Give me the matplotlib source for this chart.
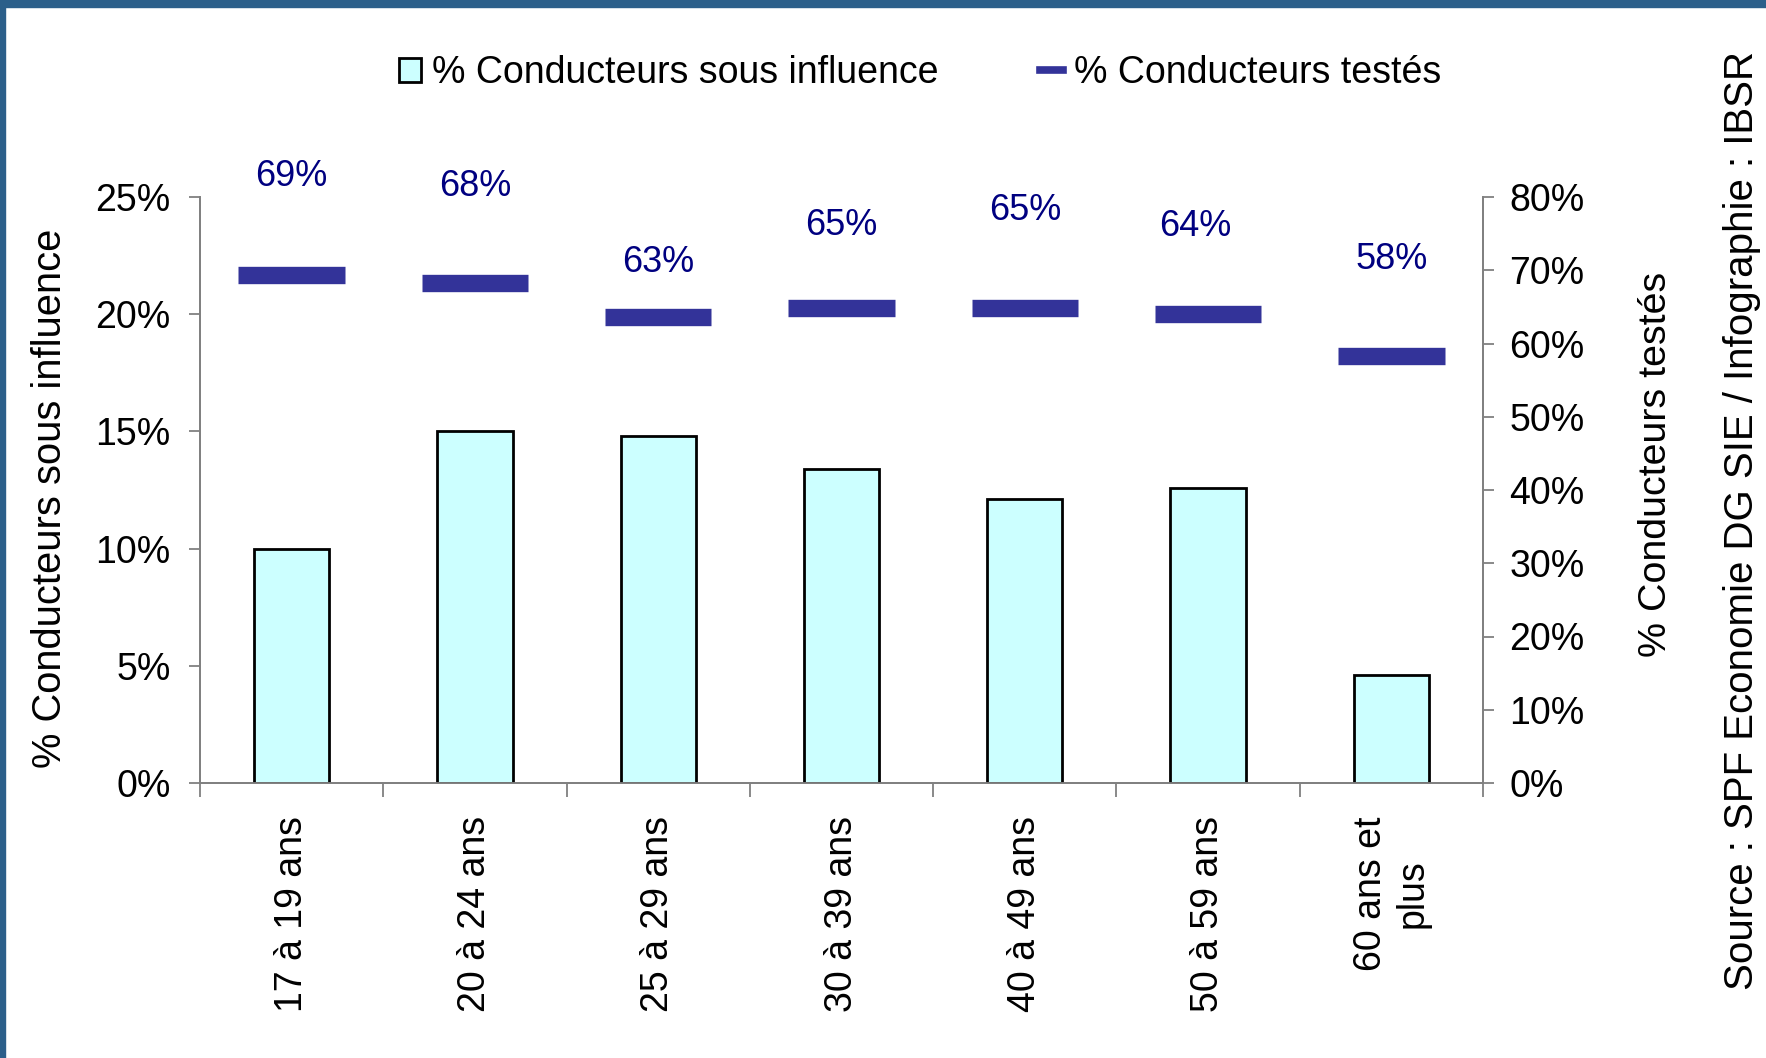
import matplotlib
matplotlib.use("Agg")
import matplotlib.pyplot as plt
from matplotlib.patches import Patch, Rectangle
from matplotlib.lines import Line2D
import numpy as np

plt.rcParams['font.family'] = ['Liberation Sans', 'DejaVu Sans']

categories = ["17 à 19 ans", "20 à 24 ans", "25 à 29 ans", "30 à 39 ans",
              "40 à 49 ans", "50 à 59 ans", "60 ans et\nplus"]
influence = [10.0, 15.0, 14.8, 13.4, 12.1, 12.6, 4.6]
tested = [69.4, 68.2, 63.6, 64.9, 64.9, 64.0, 58.3]
tested_labels = ["69%", "68%", "63%", "65%", "65%", "64%", "58%"]
label_offsets = [12.1, 12.0, 6.1, 9.9, 12.0, 10.7, 11.9]  # label baseline above marker (right-axis units)
label_dx = [0, 0, 0, 0, 0, -0.07, 0]

left_ticks = [0, 5, 10, 15, 20, 25]
right_ticks = [0, 10, 20, 30, 40, 50, 60, 70, 80]

W, H = 1766, 1058
fig = plt.figure(figsize=(W / 100, H / 100), dpi=100)
fig.patch.set_facecolor("white")

ax = fig.add_axes([200 / W, 1 - 783 / H, (1483 - 200) / W, (783 - 197) / H])
ax2 = ax.twinx()

x = np.arange(len(categories))
ax.bar(x, influence, width=0.41, color="#CCFFFF", edgecolor="black", linewidth=2, zorder=3)
ax.set_xlim(-0.5, len(categories) - 0.5)
ax.set_ylim(0, 25)
ax.set_yticks(left_ticks)
ax.set_yticklabels([f"{v}%" for v in left_ticks])

ax2.hlines(tested, x - 0.29, x + 0.29, colors="#333399", linewidth=12.5, zorder=4)
for xi, v, lab, off, dx in zip(x, tested, tested_labels, label_offsets, label_dx):
    ax2.text(xi + dx, v + off, lab, ha="center", va="baseline", color="#000080", fontsize=26)
ax2.set_ylim(0, 80)
ax2.set_yticks(right_ticks)
ax2.set_yticklabels([f"{v}%" for v in right_ticks])

gray = "#808080"
for a in (ax, ax2):
    a.spines["top"].set_visible(False)
    for s in ("left", "right", "bottom"):
        a.spines[s].set_color(gray)
        a.spines[s].set_linewidth(1.3)
    a.set_facecolor("none")

ax.tick_params(axis="y", direction="out", length=8, width=1.3, color=gray, labelsize=27, pad=13)
ax2.tick_params(axis="y", direction="out", length=8, width=1.3, color=gray, labelsize=27, pad=11)

ax.set_xticks(x)
ax.set_xticklabels(categories, rotation=90, va="top", ha="center", multialignment="center", fontsize=27)
ax.tick_params(axis="x", which="major", length=0, pad=24)
ax.set_xticks(np.arange(-0.5, len(categories), 1.0), minor=True)
ax.tick_params(axis="x", which="minor", direction="out", length=10, width=1.3, color=gray)

ax.set_ylabel("% Conducteurs sous influence", fontsize=28.7)
ax.yaxis.set_label_coords(-0.102, 0.486)
ax2.set_ylabel("% Conducteurs testés", fontsize=28.4)
ax2.yaxis.set_label_coords(1.121, 0.544)

fig.text(1742 / W, 1 - 521 / H, "Source : SPF Economie DG SIE / Infographie : IBSR",
         rotation=90, ha="center", va="center", fontsize=29)

handles = [Patch(facecolor="#CCFFFF", edgecolor="black", linewidth=2),
           Line2D([0], [0], color="#333399", linewidth=5.5)]
fig.legend(handles, ["% Conducteurs sous influence", "% Conducteurs testés"],
           loc="center", bbox_to_anchor=(920 / W, 1 - 73 / H), ncol=2, frameon=False,
           fontsize=27, handlelength=0.6, handleheight=0.6, handletextpad=0.3,
           columnspacing=2.7)

# dark blue frame on top and left
fig.add_artist(Rectangle((0, 1 - 7 / H), 1, 7 / H, transform=fig.transFigure,
                         color="#2C5F8A", zorder=10))
fig.add_artist(Rectangle((0, 0), 5 / W, 1, transform=fig.transFigure,
                         color="#2C5F8A", zorder=10))

fig.savefig("out.png", dpi=100)
